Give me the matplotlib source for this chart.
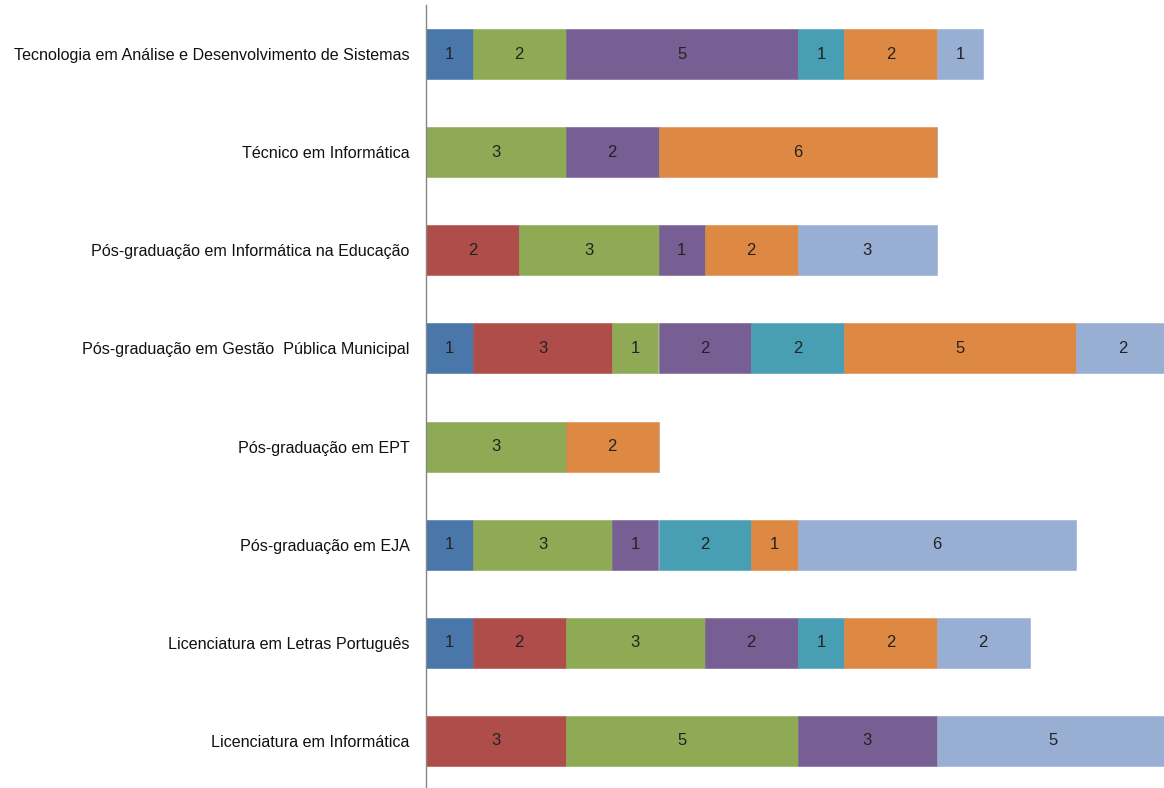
import numpy as np
import matplotlib.pyplot as plt
from matplotlib import font_manager

names = {f.name for f in font_manager.fontManager.ttflist}
fam = 'Liberation Sans Narrow' if 'Liberation Sans Narrow' in names else 'Liberation Sans'
plt.rcParams['font.family'] = [fam, 'DejaVu Sans']

cursos = [
    'Tecnologia em Análise e Desenvolvimento de Sistemas',
    'Técnico em Informática',
    'Pós-graduação em Informática na Educação',
    'Pós-graduação em Gestão  Pública Municipal',
    'Pós-graduação em EPT',
    'Pós-graduação em EJA',
    'Licenciatura em Letras Português',
    'Licenciatura em Informática',
]

# one list per series (same order as cursos)
s1 = [1, 0, 0, 1, 0, 1, 1, 0]
s2 = [0, 0, 2, 3, 0, 0, 2, 3]
s3 = [2, 3, 3, 1, 3, 3, 3, 5]
s4 = [5, 2, 1, 2, 0, 1, 2, 3]
s5 = [1, 0, 0, 2, 0, 2, 1, 0]
s6 = [2, 6, 2, 5, 2, 1, 2, 0]
s7 = [1, 0, 3, 2, 0, 6, 2, 5]

series = [s1, s2, s3, s4, s5, s6, s7]
cores = ['#4A77AA', '#AF4D4B', '#8EAA55', '#775F94', '#489EB3', '#DD8943', '#98AED3']

fig = plt.figure(figsize=(11.64, 7.88), dpi=100)
ax = fig.add_axes([426.5 / 1164, -2 / 788, 742.4 / 1164, 785 / 788])

y = np.arange(len(cursos))
left = np.zeros(len(cursos))
for vals, c in zip(series, cores):
    vals = np.array(vals, dtype=float)
    ax.barh(y, vals, left=left, height=0.51, color=c, edgecolor=c, linewidth=0.4)
    for yi, l, v in zip(y, left, vals):
        if v > 0:
            ax.text(l + v / 2, yi, str(int(v)), ha='center', va='center',
                    fontsize=12, color='#222222')
    left += vals

ax.set_xlim(0, 16)
ax.set_ylim(len(cursos) - 0.5, -0.5)
ax.set_yticks(y)
ax.set_yticklabels(cursos, fontsize=11.6, color='#111111')
ax.tick_params(axis='y', length=0, pad=12)
ax.set_xticks([])
for s in ['top', 'right', 'bottom']:
    ax.spines[s].set_visible(False)
ax.spines['left'].set_color('#868686')
ax.spines['left'].set_linewidth(1)

fig.savefig('out.png', dpi=100)
